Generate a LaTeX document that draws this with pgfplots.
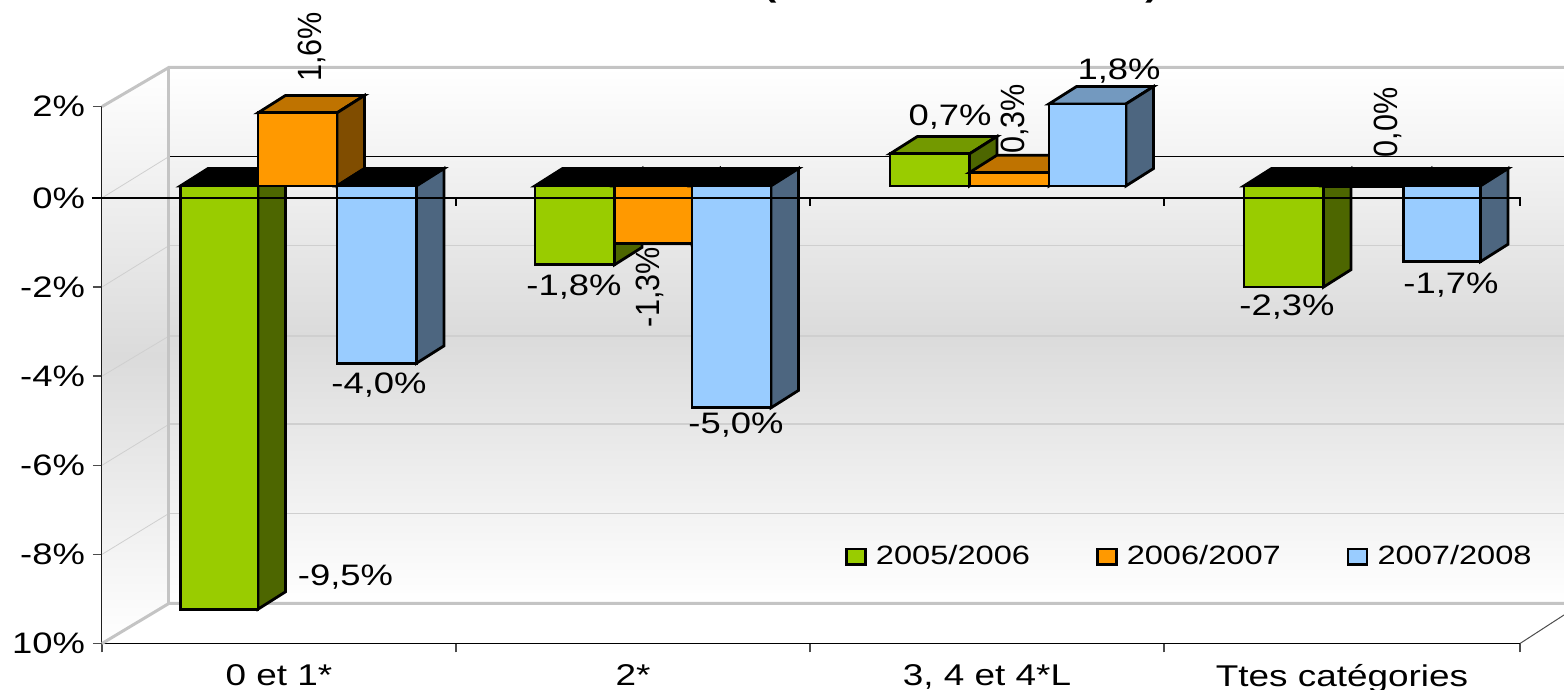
\documentclass[border=0pt]{standalone}
\usepackage{fontspec}
\setmainfont{Liberation Sans}[FakeStretch=1.23]
\newfontfamily\rotfont{Liberation Sans}
\usepackage{graphicx}
\usepackage{pgfplots}
\pgfplotsset{compat=1.18}

\definecolor{cGreen}{HTML}{99CC00}
\definecolor{cGreenTop}{HTML}{739900}
\definecolor{cGreenSide}{HTML}{4D6600}
\definecolor{cOrange}{HTML}{FF9900}
\definecolor{cOrangeTop}{HTML}{BF7300}
\definecolor{cOrangeSide}{HTML}{804D00}
\definecolor{cBlue}{HTML}{99CCFF}
\definecolor{cBlueTop}{HTML}{7399BF}
\definecolor{cBlueSide}{HTML}{4D6680}
\definecolor{wallGrey}{HTML}{DBDBDB}
\definecolor{edgeGrey}{HTML}{C4C4C4}
\definecolor{gridGrey}{HTML}{CFCFCF}

% front plane sits 12px above the axis zero, depth goes 27.5px right and 17px up
\def\basey{0.27}
\def\depthx{27.5}
\def\depthy{0.39}
\def\barlw{1.4pt}

% x0, x1, value, colour name
\newcommand{\bartd}[4]{%
  \pgfmathsetmacro\vy{\basey+#3}%
  \pgfmathsetmacro\by{\basey+\depthy}%
  \pgfmathsetmacro\vd{\vy+\depthy}%
  \pgfmathsetmacro\xa{#1+\depthx}%
  \pgfmathsetmacro\xb{#2+\depthx}%
  \pgfmathparse{#3>0 ? 1 : 0}%
  \ifnum\pgfmathresult=1
    \edef\tmp{\noexpand\addplot[forget plot,fill=#4Top,draw=black,line width=\barlw]
      coordinates {(#1,\vy) (\xa,\vd) (\xb,\vd) (#2,\vy)} --cycle;
      \noexpand\addplot[forget plot,fill=#4Side,draw=black,line width=\barlw]
      coordinates {(#2,\basey) (\xb,\by) (\xb,\vd) (#2,\vy)} --cycle;
      \noexpand\addplot[forget plot,fill=#4,draw=black,line width=\barlw]
      coordinates {(#1,\basey) (#1,\vy) (#2,\vy) (#2,\basey)} --cycle;}%
  \else
    \edef\tmp{\noexpand\addplot[forget plot,fill=black,draw=black,line width=\barlw]
      coordinates {(#1,\basey) (\xa,\by) (\xb,\by) (#2,\basey)} --cycle;
      \noexpand\addplot[forget plot,fill=#4Side,draw=black,line width=\barlw]
      coordinates {(#2,\basey) (\xb,\by) (\xb,\vd) (#2,\vy)} --cycle;
      \noexpand\addplot[forget plot,fill=#4,draw=black,line width=\barlw]
      coordinates {(#1,\basey) (#1,\vy) (#2,\vy) (#2,\basey)} --cycle;}%
  \fi
  \tmp
}

\begin{document}
\begin{tikzpicture}
\path[use as bounding box,clip] (-51pt,-23.25pt) rectangle (731pt,321.75pt);
\begin{axis}[
    scale only axis,
    width=709pt,
    height=268.45pt,
    xmin=102, xmax=1520,
    ymin=-10, ymax=2.05,
    clip=false,
    axis lines*=left,
    axis line style={black,line width=0.7pt},
    tick align=outside,
    major tick length=4.5pt,
    tick style={black!70,line width=0.7pt},
    xtick={102,456,810,1164,1520},
    xticklabels={},
    extra x ticks={279,633,987,1342},
    extra x tick labels={0 et 1*,2*,{3, 4 et 4*L},Ttes catégories},
    extra x tick style={major tick length=0pt},
    ytick={-10,-8,-6,-4,-2,0,2.05},
    yticklabels={10\%,-8\%,-6\%,-4\%,-2\%,0\%,2\%},
    yticklabel style={font=\fontsize{14.8}{16}\selectfont,xshift=-0.5pt},
    xticklabel style={font=\fontsize{15}{16}\selectfont,yshift=-7pt},
    legend style={at={(axis cs:1542,-8.05)},anchor=east,draw=none,fill=none,
      legend columns=3,font=\fontsize{13.25}{15}\selectfont,
      /tikz/every even column/.append style={column sep=31pt}},
    legend cell align=left,
]
% walls and floor
\path[top color=white,bottom color=white,middle color=wallGrey]
  (axis cs:169,2.93) rectangle (axis cs:1564,-9.1);
\path[top color=white,bottom color=white,middle color=wallGrey]
  (axis cs:102,2.05) -- (axis cs:169,2.93) -- (axis cs:169,-9.1) -- (axis cs:102,-10) -- cycle;

% back wall and side wall gridlines
\addplot[forget plot,gridGrey,line width=0.4pt] coordinates {(102,-2) (169,-1.07)};
\addplot[forget plot,gridGrey,line width=0.4pt] coordinates {(102,-4) (169,-3.1)};
\addplot[forget plot,gridGrey,line width=0.4pt] coordinates {(102,-6) (169,-5.08)};
\addplot[forget plot,gridGrey,line width=0.4pt] coordinates {(102,-8) (169,-7.08)};
\addplot[forget plot,gridGrey,line width=0.4pt] coordinates {(102,0) (169,0.93)};
\addplot[forget plot,gridGrey,line width=0.8pt] coordinates {(169,-1.07) (1564,-1.07)};
\addplot[forget plot,gridGrey,line width=0.8pt] coordinates {(169,-3.1) (1564,-3.1)};
\addplot[forget plot,gridGrey,line width=0.8pt] coordinates {(169,-5.08) (1564,-5.08)};
\addplot[forget plot,gridGrey,line width=0.8pt] coordinates {(169,-7.08) (1564,-7.08)};
\addplot[forget plot,black,line width=0.6pt] coordinates {(169,0.93) (1564,0.93)};
\addplot[forget plot,edgeGrey,line width=1.5pt] coordinates {(102,2.05) (169,2.93) (1564,2.93)};
\addplot[forget plot,edgeGrey,line width=1.5pt] coordinates {(169,2.93) (169,-9.1)};
\addplot[forget plot,edgeGrey,line width=1.5pt] coordinates {(102,-10) (169,-9.1) (1564,-9.1)};
\addplot[forget plot,black!70,line width=0.5pt] coordinates {(1520,-10) (1564,-9.36)};

% bars, values read from the data labels and the bar heights
\bartd{180.5}{258}{-9.5}{cGreen}
\bartd{258}{337}{1.64}{cOrange}
\bartd{337}{416.5}{-3.98}{cBlue}

\bartd{535}{614.5}{-1.77}{cGreen}
\bartd{614.5}{692}{-1.3}{cOrange}
\bartd{692}{771}{-4.98}{cBlue}

\bartd{890}{969.5}{0.72}{cGreen}
\bartd{969.5}{1049}{0.3}{cOrange}
\bartd{1049}{1126}{1.84}{cBlue}

\bartd{1244}{1323.5}{-2.27}{cGreen}
\bartd{1323.5}{1403.5}{-0.01}{cOrange}
\bartd{1403.5}{1480.5}{-1.7}{cBlue}

% zero line with its ticks, it runs over the bars
\addplot[forget plot,black,line width=0.6pt] coordinates {(92,0) (1520,0) (1520,-0.18) (1520,0) (1164,0) (1164,-0.18) (1164,0) (810,0) (810,-0.18) (810,0) (456,0) (456,-0.18)};

% data labels
\begin{scope}[every node/.style={font=\fontsize{14.8}{16}\selectfont,inner sep=0pt}]
\node at (axis cs:345.5,-8.52) {-9,5\%};
\node at (axis cs:379,-4.21) {-4,0\%};
\node at (axis cs:574,-1.99) {-1,8\%};
\node at (axis cs:736,-5.09) {-5,0\%};
\node at (axis cs:950,1.82) {0,7\%};
\node at (axis cs:1119,2.85) {1,8\%};
\node at (axis cs:1287,-2.46) {-2,3\%};
\node at (axis cs:1451,-1.95) {-1,7\%};
\end{scope}
\begin{scope}[every node/.style={font=\rotfont\fontsize{15.3}{16}\selectfont,inner sep=0pt,rotate=90}]
\node at (axis cs:312,3.39) {\scalebox{1}[1.1]{1,6\%}};
\node at (axis cs:649.5,-2.0) {\scalebox{1}[1.1]{-1,3\%}};
\node at (axis cs:1015,1.77) {\scalebox{1}[1.1]{0,3\%}};
\node at (axis cs:1387.5,1.70) {\scalebox{1}[1.1]{0,0\%}};
\end{scope}

% title is cut off by the top edge, only the brackets show
\node[font=\bfseries\fontsize{16}{18}\selectfont,anchor=south,inner sep=0pt] at (axis cs:770,4.36) {(};
\node[font=\bfseries\fontsize{16}{18}\selectfont,anchor=south,inner sep=0pt] at (axis cs:1152,4.36) {)};

\addlegendimage{legend image code/.code={\draw[line width=1.3pt,fill=cGreen] (0pt,-3.8pt) rectangle (9.5pt,3.8pt); \path (12.5pt,0pt);}}
\addlegendentry{2005/2006}
\addlegendimage{legend image code/.code={\draw[line width=1.3pt,fill=cOrange] (0pt,-3.8pt) rectangle (9.5pt,3.8pt); \path (12.5pt,0pt);}}
\addlegendentry{2006/2007}
\addlegendimage{legend image code/.code={\draw[line width=1.3pt,fill=cBlue] (0pt,-3.8pt) rectangle (9.5pt,3.8pt); \path (12.5pt,0pt);}}
\addlegendentry{2007/2008}
\end{axis}
\end{tikzpicture}
\end{document}
